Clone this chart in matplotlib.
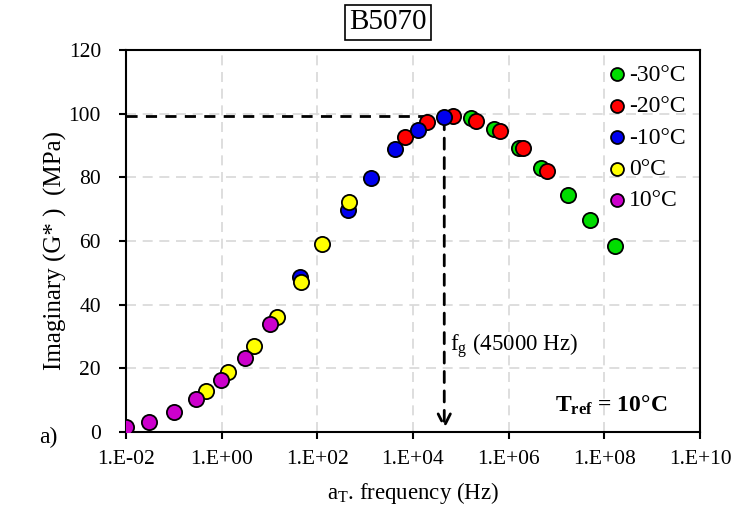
import matplotlib.pyplot as plt
import numpy as np

plt.rcParams['font.family'] = ['Liberation Serif', 'DejaVu Serif']
plt.rcParams['mathtext.fontset'] = 'custom'
plt.rcParams['mathtext.rm'] = 'Liberation Serif'
plt.rcParams['mathtext.it'] = 'Liberation Serif:italic'
plt.rcParams['mathtext.bf'] = 'Liberation Serif:bold'

# log10 of reduced frequency (Hz) and G'' (MPa) per test temperature
logf_m30 = [5.22, 5.70, 6.21, 6.68, 7.23, 7.71, 8.23]
g_m30 = [98.5, 95.1, 89.3, 82.8, 74.5, 66.6, 58.5]
logf_m20 = [3.84, 4.30, 4.83, 5.31, 5.82, 6.29, 6.81]
g_m20 = [92.8, 97.3, 99.3, 97.8, 94.7, 89.1, 82.1]
logf_m10 = [1.64, 2.65, 3.12, 3.63, 4.11, 4.64]
g_m10 = [48.8, 69.7, 79.9, 88.8, 94.9, 99.1]
logf_0 = [-0.33, 0.14, 0.67, 1.15, 1.66, 2.10, 2.67]
g_0 = [12.9, 18.9, 27.0, 36.0, 47.2, 59.0, 72.2]
logf_10 = [-2.00, -1.51, -1.00, -0.54, -0.01, 0.49, 1.00]
g_10 = [1.6, 3.2, 6.2, 10.3, 16.3, 23.4, 34.0]

series = [
    (logf_m30, g_m30, '#00dd00', '-30°C'),
    (logf_m20, g_m20, '#ff0000', '-20°C'),
    (logf_m10, g_m10, '#0000ee', '-10°C'),
    (logf_0, g_0, '#ffff00', '0°C'),
    (logf_10, g_10, '#cc00cc', '10°C'),
]

fg = 45000
g_peak = 99.3

fig = plt.figure(figsize=(7.31, 5.08), dpi=100)
ax = fig.add_axes([0.1724, 0.1496, 0.7852, 0.752])

for lf, g, c, lab in series:
    ax.scatter(10 ** np.array(lf), g, s=120, color=c, edgecolors='black',
               linewidths=1.3, label=lab, zorder=3)

ax.set_xscale('log')
ax.set_xlim(1e-2, 1e10)
ax.set_ylim(0, 120)
ax.set_xticks([1e-2, 1e0, 1e2, 1e4, 1e6, 1e8, 1e10])
ax.set_xticklabels(['1.E-02', '1.E+00', '1.E+02', '1.E+04', '1.E+06', '1.E+08', '1.E+10'])
ax.minorticks_off()
ax.set_yticks(range(0, 121, 20))
ax.grid(True, color='#d8d8d8', linestyle=(0, (6, 4)), linewidth=1.2)
ax.set_axisbelow(True)
ax.tick_params(labelsize=15.5, direction='out', length=5, width=1.5)
ax.tick_params(axis='x', pad=8)
ax.tick_params(axis='y', pad=13)
for s in ax.spines.values():
    s.set_linewidth(1.5)

# fg guide lines
ax.plot([1e-2, fg], [g_peak, g_peak], color='black', linestyle=(0, (4, 3)), linewidth=2, zorder=2)
ax.annotate('', xy=(fg, 0), xytext=(fg, g_peak),
            arrowprops=dict(arrowstyle='->', color='black', linestyle=(0, (4, 3)),
                            linewidth=2, mutation_scale=22), zorder=2)
ax.text(fg * 1.3, 27, r'f$_\mathrm{g}$ (45000 Hz)', fontsize=16.5, va='center')
ax.text(9.3e6, 8.5, r'$\mathbf{T_{ref}}$ = 10°C', fontsize=17, fontweight='bold', va='center')

ax.set_xlabel(r'a$_\mathrm{T}$. frequency (Hz)', fontsize=16.5, labelpad=8)
ax.set_ylabel('Imaginary (G* )  (MPa)', fontsize=18)
ax.yaxis.set_label_coords(-0.102, 0.476)
ax.set_title('B5070', fontsize=21, pad=15, x=0.456,
             bbox=dict(facecolor='white', edgecolor='black', linewidth=1.2, boxstyle='square,pad=0.15'))
fig.text(0.053, 0.138, 'a)', fontsize=17, va='center')

ax.legend(loc='upper right', frameon=False, fontsize=17, handletextpad=-0.1,
          labelspacing=0.42, borderaxespad=0.2, handlelength=1.2, scatterpoints=1,
          markerscale=0.85)

fig.savefig('out.png', dpi=100)
